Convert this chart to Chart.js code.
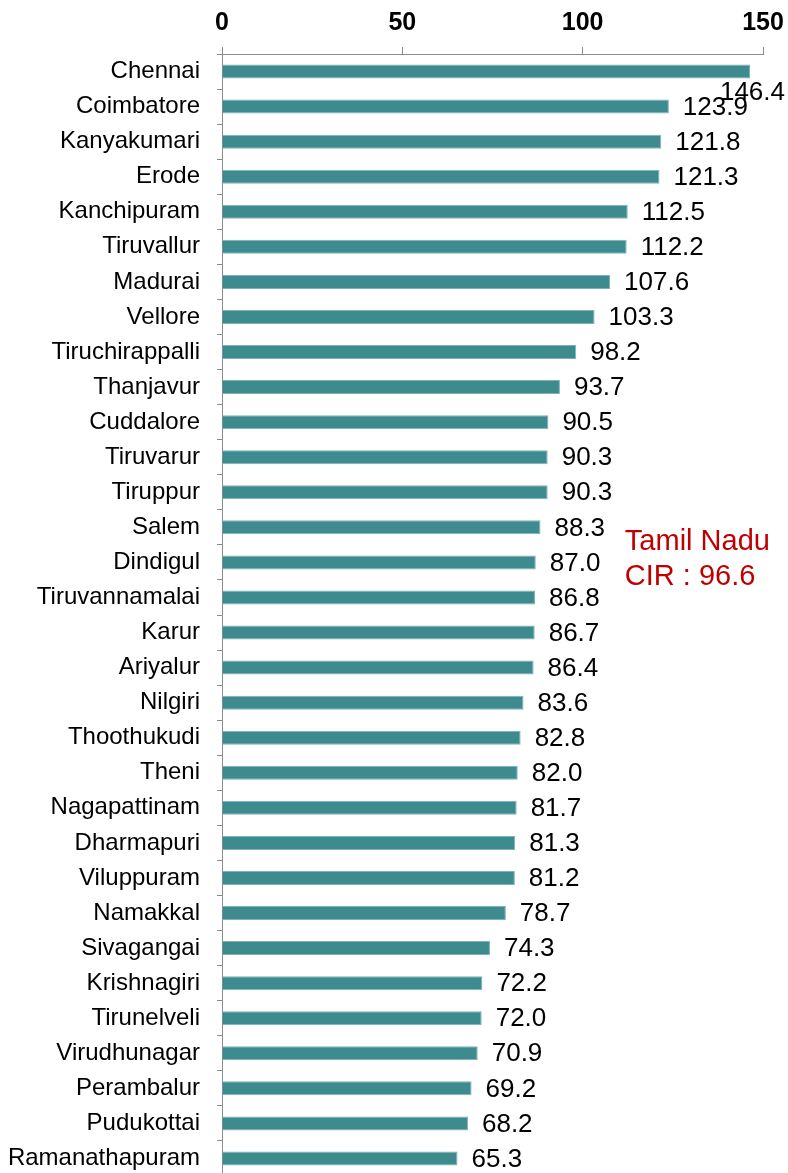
<!DOCTYPE html>
<html>
<head>
<meta charset="utf-8">
<script src="https://cdn.jsdelivr.net/npm/chart.js@4/dist/chart.umd.min.js"></script>
<style>
    html, body { margin: 0; padding: 0; background: #fff; overflow: hidden; }
    #wrap { width: 788px; height: 1176px; position: relative; }
</style>
</head>
<body>
<div id="wrap"><canvas id="cirChart"></canvas></div>
<script>
// District names, top to bottom
const districts = ['Chennai', 'Coimbatore', 'Kanyakumari', 'Erode', 'Kanchipuram', 'Tiruvallur',
    'Madurai', 'Vellore', 'Tiruchirappalli', 'Thanjavur', 'Cuddalore', 'Tiruvarur', 'Tiruppur',
    'Salem', 'Dindigul', 'Tiruvannamalai', 'Karur', 'Ariyalur', 'Nilgiri', 'Thoothukudi', 'Theni',
    'Nagapattinam', 'Dharmapuri', 'Viluppuram', 'Namakkal', 'Sivagangai', 'Krishnagiri',
    'Tirunelveli', 'Virudhunagar', 'Perambalur', 'Pudukottai', 'Ramanathapuram'];

// Crude incidence rate per district
const cirValues = [146.4, 123.9, 121.8, 121.3, 112.5, 112.2, 107.6, 103.3, 98.2, 93.7, 90.5, 90.3,
    90.3, 88.3, 87.0, 86.8, 86.7, 86.4, 83.6, 82.8, 82.0, 81.7, 81.3, 81.2, 78.7, 74.3, 72.2,
    72.0, 70.9, 69.2, 68.2, 65.3];

// Axis ticks
const xTicks = [0, 50, 100, 150];

// State annotation
const stateNote = ['Tamil Nadu', 'CIR : 96.6'];
const stateNoteAt = { x: 111.7, row: 13.42 };

const axisGrey = '#8c8c8c';
const fontFamily = '"Liberation Sans", Arial, sans-serif';

// Value labels to the right of each bar
const valueLabels = {
    id: 'valueLabels',
    afterDatasetsDraw(chart) {
        const ctx = chart.ctx;
        const meta = chart.getDatasetMeta(0);
        ctx.save();
        ctx.font = '26px ' + fontFamily;
        ctx.fillStyle = '#000';
        ctx.textBaseline = 'middle';
        ctx.textAlign = 'left';
        meta.data.forEach((bar, i) => {
            const txt = cirValues[i].toFixed(1);
            const w = ctx.measureText(txt).width;
            let x = bar.x + 14;
            let y = bar.y + 1;
            if (x + w > chart.width - 3) {
                // does not fit: push under the bar end
                x = chart.width - 3 - w;
                y += 20;
            }
            ctx.fillText(txt, x, y);
        });
        ctx.restore();
    }
};

// "Tamil Nadu CIR" note
const stateLabel = {
    id: 'stateLabel',
    afterDraw(chart) {
        const ctx = chart.ctx;
        const xs = chart.scales.x;
        const ys = chart.scales.y;
        ctx.save();
        ctx.font = '29px ' + fontFamily;
        ctx.fillStyle = '#c00000';
        ctx.textBaseline = 'middle';
        ctx.textAlign = 'left';
        stateNote.forEach((line, i) => {
            ctx.fillText(line, xs.getPixelForValue(stateNoteAt.x), ys.getPixelForValue(stateNoteAt.row + i));
        });
        ctx.restore();
    }
};

const ctx = document.getElementById('cirChart');
new Chart(ctx.getContext('2d'), {
    type: 'bar',
    data: {
        labels: districts,
        datasets: [{
            data: cirValues,
            backgroundColor: '#3e8b8f',
            borderColor: '#7fb2b4',
            borderWidth: 1,
            borderSkipped: 'start',
            barPercentage: 0.8,
            categoryPercentage: 0.5
        }]
    },
    options: {
        indexAxis: 'y',
        responsive: true,
        maintainAspectRatio: false,
        animation: false,
        layout: { padding: { left: 0, right: 25, top: 0, bottom: 0 } },
        plugins: {
            legend: { display: false },
            tooltip: { enabled: false }
        },
        scales: {
            x: {
                position: 'top',
                min: 0,
                max: 150,
                afterBuildTicks: (scale) => {
                    scale.ticks = xTicks.map(v => ({ value: v }));
                },
                afterFit: (scale) => {
                    scale.height = 54;
                    scale.paddingLeft = 0;
                    scale.paddingRight = 0;
                },
                border: { display: true, color: axisGrey, width: 1 },
                grid: { drawOnChartArea: false, drawTicks: true, tickLength: 7, color: axisGrey },
                ticks: {
                    padding: 9,
                    color: '#000',
                    font: { family: fontFamily, size: 25, weight: 'bold' }
                }
            },
            y: {
                afterFit: (scale) => {
                    scale.width = 222;
                    scale.paddingTop = 0;
                    scale.paddingBottom = 0;
                },
                border: { display: true, color: axisGrey, width: 1 },
                grid: { drawOnChartArea: false, drawTicks: true, tickLength: 5, color: axisGrey },
                ticks: {
                    padding: 17,
                    autoSkip: false,
                    color: '#000',
                    font: { family: fontFamily, size: 24 }
                }
            }
        }
    },
    plugins: [valueLabels, stateLabel]
});
</script>
</body>
</html>
